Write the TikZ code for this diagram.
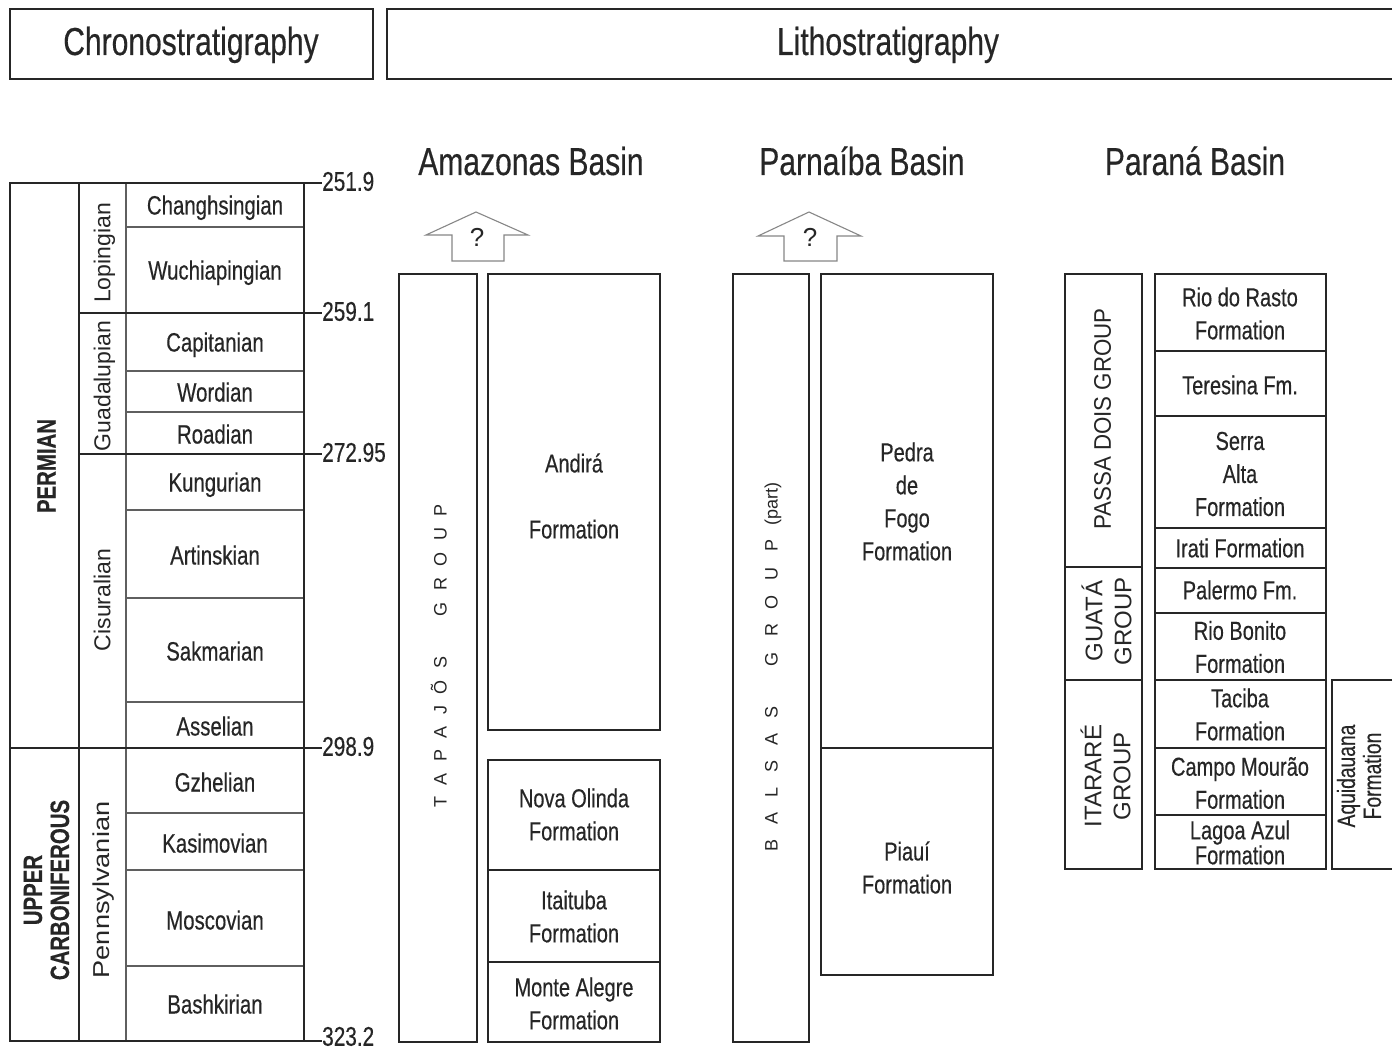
\documentclass[tikz,border=0pt]{standalone}
\usepackage{fontspec}
\setmainfont{Liberation Sans}
\newfontfamily\nar[FakeStretch=0.77,FakeBold=0.35]{Liberation Sans}
\definecolor{ink}{RGB}{38,38,38}
\definecolor{gry}{RGB}{95,95,95}
\definecolor{agr}{RGB}{135,135,135}
\newcommand\fHead{\nar\fontsize{39}{44}\selectfont}
\newcommand\fStage{\nar\fontsize{26.5}{33}\selectfont}
\newcommand\fNum{\nar\fontsize{27}{33}\selectfont}
\newcommand\fSer{\fontsize{23}{28}\selectfont}
\newcommand\fSys{\nar\bfseries\fontsize{26.5}{27}\selectfont}
\newcommand\fFm{\nar\fontsize{26}{33}\selectfont}
\newcommand\fGrp{\fontsize{24}{29}\selectfont}
\newcommand\fSp{\fontsize{18}{20}\selectfont}
\newcommand\fQ{\fontsize{26}{30}\selectfont}
\newcommand\lsA{\hskip 11.5pt}
\newcommand\lsB{\hskip 15pt}
\begin{document}
\begin{tikzpicture}[x=1pt,y=-1pt,
  frame/.style={draw=ink,line width=2.4pt},
  midl/.style={draw=ink,line width=1.8pt},
  fine/.style={draw=gry,line width=1.3pt},
  arr/.style={draw=agr,line width=1.1pt,line join=miter},
  t/.style={text=ink,inner sep=0pt,align=center},
  head/.style={t,font=\fHead,text height=28pt,text depth=0pt},
  stage/.style={t,font=\fStage,text height=19pt,text depth=0pt},
  num/.style={t,font=\fNum,anchor=west,text height=19.5pt,text depth=0pt},
  ser/.style={t,font=\fSer,rotate=90,text height=16.5pt,text depth=0pt},
  sys/.style={t,font=\fSys,rotate=90},
  fm/.style={t,font=\fFm},
  fmone/.style={t,font=\fFm,text height=18.6pt,text depth=0pt},
  grp/.style={t,font=\fGrp,rotate=90},
  sp/.style={t,font=\fSp,rotate=90,text height=13pt,text depth=0pt},
  qm/.style={t,font=\fQ,text height=19pt,text depth=0pt}
]
\fill[white] (0,0) rectangle (1399,1051);
\useasboundingbox (0,0) rectangle (1399,1051);

% ---------- headers ----------
\draw[frame] (10,9) rectangle (373,79);
\node[head] (chrono) at (191,41) {Chronostratigraphy};
\draw[frame] (1392,9) -- (387,9) -- (387,79) -- (1392,79);
\node[head] (litho) at (888,41) {Lithostratigraphy};

\node[head] (amz) at (531,161) {Amazonas Basin};
\node[head] (pnb) at (862,161) {Parnaíba Basin};
\node[head] (prn) at (1195,161) {Paraná Basin};

% ---------- chronostratigraphic table ----------
\foreach \y in {227,371,412,510,598,702,813,870,966}
  \draw[fine] (126,\y) -- (304,\y);
\draw[fine] (126,183) -- (126,1041);
\draw[midl] (79,313) -- (322,313);
\draw[midl] (79,454) -- (322,454);
\draw[frame] (10,748) -- (322,748);
\draw[frame] (322,183) -- (10,183) -- (10,1041) -- (322,1041);
\draw[frame] (79,183) -- (79,1041);
\draw[frame] (304,183) -- (304,1041);

\node[num] (a1) at (322,181) {251.9};
\node[num] (a2) at (322,311) {259.1};
\node[num] (a3) at (322,452) {272.95};
\node[num] (a4) at (322,746) {298.9};
\node[num] (a5) at (322,1036) {323.2};

\node[stage] (s1) at (215,205) {Changhsingian};
\node[stage] (s2) at (215,270) {Wuchiapingian};
\node[stage] (s3) at (215,342) {Capitanian};
\node[stage] (s4) at (215,392) {Wordian};
\node[stage] (s5) at (215,434) {Roadian};
\node[stage] (s6) at (215,482) {Kungurian};
\node[stage] (s7) at (215,555) {Artinskian};
\node[stage] (s8) at (215,651) {Sakmarian};
\node[stage] (s9) at (215,726) {Asselian};
\node[stage] (s10) at (215,782) {Gzhelian};
\node[stage] (s11) at (215,843) {Kasimovian};
\node[stage] (s12) at (215,920) {Moscovian};
\node[stage] (s13) at (215,1004) {Bashkirian};

\node[ser] (e1) at (102,253) {Lopingian};
\node[ser] (e2) at (102,386) {Guadalupian};
\node[ser] (e3) at (102,600) {Cisuralian};
\node[ser] (e4) at (101,890) {\scalebox{1.18}[1]{Pennsylvanian}};

\node[sys,text height=19pt,text depth=0pt] (y1) at (46,466) {PERMIAN};
\node[sys] (y2) at (46.5,890) {UPPER\\CARBONIFEROUS};

% ---------- Amazonas basin ----------
\draw[arr] (452,261) -- (452,235) -- (426,235) -- (476,212) -- (528,235) -- (504,235) -- (504,261) -- cycle;
\node[qm] (q1) at (477,237) {?};
\draw[frame] (399,274) rectangle (477,1042);
\draw[frame] (488,274) rectangle (660,730);
\draw[frame] (488,760) rectangle (660,1042);
\draw[frame] (488,870) -- (660,870);
\draw[frame] (488,962) -- (660,962);
\node[sp] (tap) at (440,656) {T\lsA A\lsA P\lsA A\lsA J\lsA Õ\lsA S\hskip 40pt G\lsA R\lsA O\lsA U\lsA P};
\node[fm] (andira) at (574,496) {Andirá\\[33pt]Formation};
\node[fm] (novaol) at (574,814.5) {Nova Olinda\\Formation};
\node[fm] (itait) at (574,916.5) {Itaituba\\Formation};
\node[fm] (montal) at (574,1003.5) {Monte Alegre\\Formation};

% ---------- Parnaiba basin ----------
\draw[arr] (784,261) -- (784,236) -- (758,236) -- (809,212) -- (861,236) -- (837,236) -- (837,261) -- cycle;
\node[qm] (q2) at (810,237) {?};
\draw[frame] (733,274) rectangle (809,1042);
\draw[frame] (821,274) rectangle (993,975);
\draw[frame] (821,748) -- (993,748);
\node[sp] (bal) at (771,667) {B\lsB A\lsB L\lsB S\lsB A\lsB S\hskip 40pt G\lsB R\lsB O\lsB U\lsB P\hskip 14pt (part)};
\node[fm] (pedra) at (907,501.5) {Pedra\\de\\Fogo\\Formation};
\node[fm] (piaui) at (907,867.5) {Piauí\\Formation};

% ---------- Parana basin ----------
\draw[frame] (1065,274) rectangle (1142,869);
\draw[frame] (1065,567) -- (1142,567);
\draw[frame] (1065,680) -- (1142,680);
\draw[frame] (1155,274) rectangle (1326,869);
\foreach \y in {351,416,528,568,613,680,748,815}
  \draw[frame] (1155,\y) -- (1326,\y);
\begin{scope}
\clip (0,0) rectangle (1392,1051);
\draw[frame] (1392,680) -- (1332,680) -- (1332,869) -- (1392,869);
\node[grp,font=\nar\fontsize{25}{26}\selectfont] (aquid) at (1359,776) {Aquidauana\\Formation};
\end{scope}

\node[grp,text height=17.5pt,text depth=0pt] (passa) at (1102,419) {\scalebox{0.93}[1]{PASSA DOIS GROUP}};
\node[grp] (guata) at (1106.5,621) {GUATÁ\\GROUP};
\node[grp] (itarare) at (1105.5,776) {ITARARÉ\\GROUP};

\node[fm] (riorasto) at (1240,313.5) {Rio do Rasto\\Formation};
\node[fmone] (teresina) at (1240,385) {Teresina Fm.};
\node[fm] (serra) at (1240,474) {Serra\\Alta\\Formation};
\node[fmone] (irati) at (1240,548) {Irati Formation};
\node[fmone] (palermo) at (1240,590) {Palermo Fm.};
\node[fm] (riobon) at (1240,647) {Rio Bonito\\Formation};
\node[fm] (taciba) at (1240,714.5) {Taciba\\Formation};
\node[fm] (campo) at (1240,783) {Campo Mourão\\Formation};
\node[fm] (lagoa) at (1240,842.5) {Lagoa Azul\\[-8pt]Formation};
\end{tikzpicture}
\end{document}
